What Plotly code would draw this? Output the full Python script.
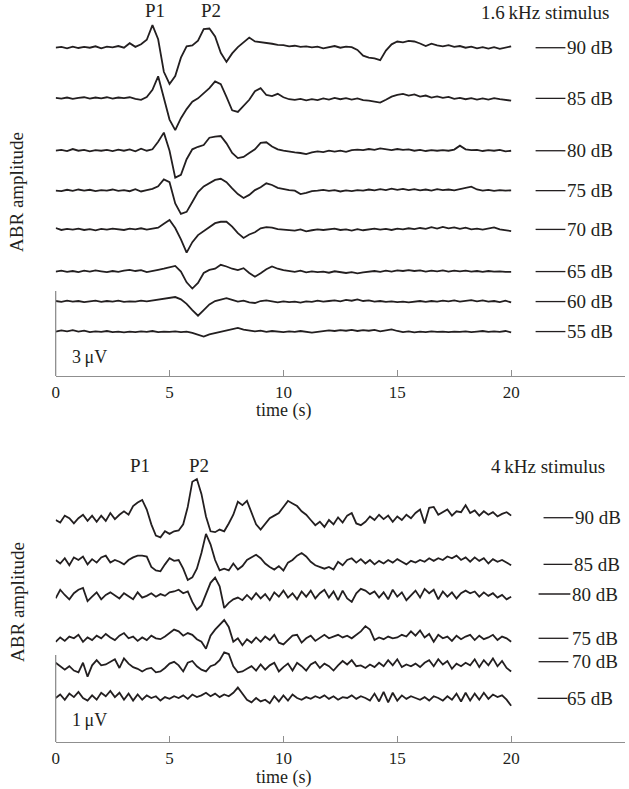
import plotly.graph_objects as go

W, H = 629, 789
FONT = "Liberation Serif"
INK = "#231f20"
GREY = "#8f8f8f"

# ---------------- data (μV, relative to each trace's own baseline) ----------------
# sample times (s)
t_top = [i * 0.25 for i in range(81)]
t_bot = [i * 0.2 for i in range(101)]

levels_top = ["90 dB", "85 dB", "80 dB", "75 dB", "70 dB", "65 dB", "60 dB", "55 dB"]
levels_bot = ["90 dB", "85 dB", "80 dB", "75 dB", "70 dB", "65 dB"]

T90 = [0.00, 0.03, -0.02, 0.04, -0.01, 0.03, 0.00, 0.05, -0.02, 0.04, 0.01, 0.06, 0.00, 0.16, 0.03, 0.12,
       0.28, 0.80, 0.30, -0.85, -1.28, -1.00, -0.35, 0.05, 0.08, 0.25, 0.66, 0.68, 0.40, -0.18, -0.50, -0.20,
       0.02, 0.18, 0.36, 0.22, 0.20, 0.16, 0.14, 0.10, 0.09, 0.05, 0.07, 0.03, 0.05, 0.01, 0.04, -0.02,
       0.03, 0.06, 0.00, 0.04, 0.02, -0.08, -0.28, -0.35, -0.38, -0.44, -0.10, 0.12, 0.22, 0.19, 0.24, 0.22,
       0.15, 0.06, 0.14, 0.08, 0.05, 0.09, 0.03, 0.06, 0.00, 0.04, -0.02, 0.02, -0.03, 0.02, -0.04, 0.00, 0.05]
T85 = [0.02, -0.01, 0.03, -0.02, 0.02, 0.04, -0.01, 0.03, 0.00, 0.04, -0.01, 0.03, 0.01, 0.04, -0.02, -0.05,
       0.05, 0.30, 0.78, 0.00, -0.75, -1.12, -0.70, -0.38, -0.12, 0.00, 0.18, 0.36, 0.60, 0.50, 0.05, -0.42,
       -0.48, -0.28, -0.05, 0.25, 0.36, 0.12, 0.08, 0.16, 0.04, -0.03, -0.05, -0.02, -0.07, -0.03, -0.06, 0.00,
       -0.04, 0.02, -0.03, 0.01, -0.04, 0.00, -0.06, -0.08, -0.12, -0.15, -0.05, 0.06, 0.12, 0.16, 0.10, 0.14,
       0.06, 0.10, 0.03, 0.07, 0.02, 0.05, -0.02, 0.02, -0.03, 0.01, -0.04, 0.00, -0.04, 0.01, -0.03, -0.05, -0.08]
T80 = [0.00, 0.03, -0.01, 0.06, 0.00, 0.03, -0.02, 0.02, 0.00, 0.03, -0.01, 0.04, 0.00, 0.05, -0.02, 0.07,
       0.00, 0.05, 0.32, 0.64, 0.00, -0.95, -0.85, -0.30, 0.05, 0.14, 0.20, 0.46, 0.50, 0.52, 0.26, -0.08,
       -0.26, -0.22, -0.08, 0.05, 0.28, 0.30, 0.15, 0.05, 0.00, -0.04, -0.06, -0.08, -0.12, -0.06, -0.02, -0.05,
       0.00, -0.03, 0.00, -0.04, 0.02, 0.04, 0.02, 0.06, 0.03, 0.08, 0.04, 0.02, 0.06, 0.03, 0.05, 0.00,
       0.03, -0.01, 0.02, 0.00, 0.02, 0.00, 0.04, 0.18, 0.05, 0.02, 0.03, -0.01, 0.02, 0.00, 0.03, -0.02, 0.00]
T75 = [0.00, -0.02, 0.03, -0.01, 0.04, 0.00, 0.03, -0.02, 0.02, 0.00, 0.04, -0.01, 0.02, -0.02, 0.05, -0.03,
       0.02, 0.06, 0.15, 0.40, 0.30, -0.45, -0.82, -0.75, -0.40, -0.05, 0.15, 0.28, 0.38, 0.42, 0.30, 0.08,
       -0.12, -0.26, -0.15, 0.02, 0.12, 0.26, 0.20, 0.10, 0.05, 0.02, 0.00, -0.12, -0.08, -0.02, 0.00, 0.03,
       -0.01, 0.02, -0.03, 0.01, -0.02, 0.02, 0.00, 0.04, 0.01, 0.05, 0.02, 0.07, 0.03, 0.06, 0.02, 0.05,
       0.01, 0.04, 0.00, 0.05, 0.02, 0.04, 0.01, 0.05, 0.08, 0.14, 0.04, 0.00, 0.03, -0.01, 0.02, 0.00, 0.01]
T70 = [0.05, -0.02, 0.02, -0.01, 0.03, -0.02, 0.01, -0.03, 0.02, -0.01, 0.03, 0.00, -0.02, 0.03, 0.00, 0.04,
       -0.01, 0.03, 0.06, 0.20, 0.33, 0.05, -0.35, -0.82, -0.45, -0.20, -0.05, 0.10, 0.22, 0.27, 0.27, 0.10,
       -0.13, -0.30, -0.18, -0.10, 0.04, 0.08, 0.06, 0.01, 0.00, -0.02, -0.04, 0.00, -0.07, -0.03, 0.00, -0.02,
       0.01, 0.03, -0.02, 0.00, -0.04, 0.01, -0.03, 0.00, 0.03, -0.01, 0.02, -0.02, 0.03, 0.00, 0.04, 0.01,
       0.05, 0.02, 0.08, 0.03, 0.09, 0.04, 0.07, 0.02, 0.06, 0.00, 0.03, -0.01, 0.02, 0.07, 0.00, -0.03, -0.06]
T65 = [0.00, 0.03, -0.01, 0.02, -0.02, 0.03, 0.00, 0.04, 0.01, -0.02, 0.02, -0.01, 0.03, 0.06, 0.02, 0.05,
       -0.02, 0.03, 0.06, 0.10, 0.16, 0.20, 0.00, -0.38, -0.60, -0.40, -0.05, 0.06, 0.10, 0.24, 0.18, 0.10,
       0.05, 0.12, -0.05, -0.18, -0.06, 0.08, 0.18, 0.10, 0.05, 0.02, -0.01, 0.03, -0.03, 0.01, -0.02, 0.00,
       -0.04, 0.01, -0.03, -0.05, -0.02, -0.06, -0.03, -0.01, 0.02, -0.01, 0.03, 0.00, 0.04, 0.02, 0.05, 0.02,
       0.04, 0.00, 0.03, 0.01, 0.04, 0.00, 0.03, 0.01, 0.03, 0.00, 0.02, -0.01, 0.02, 0.00, 0.01, -0.01, -0.01]
T60 = [0.02, -0.01, 0.03, 0.00, 0.02, -0.02, 0.01, 0.03, -0.01, 0.02, 0.00, 0.03, -0.01, 0.01, 0.00, 0.03,
       0.01, 0.04, 0.05, 0.10, 0.12, 0.16, 0.08, -0.08, -0.30, -0.50, -0.30, -0.10, 0.02, 0.08, 0.12, 0.06,
       0.00, 0.03, -0.03, -0.05, 0.02, 0.04, 0.00, -0.03, 0.01, -0.02, 0.00, -0.04, 0.01, -0.01, 0.03, 0.00,
       0.02, 0.04, 0.01, 0.06, 0.03, 0.08, 0.02, 0.04, 0.00, 0.02, -0.01, 0.01, -0.02, 0.00, -0.03, 0.00,
       0.02, -0.01, 0.02, 0.00, 0.03, 0.01, 0.04, 0.00, 0.03, 0.05, 0.01, 0.04, 0.00, 0.02, -0.02, 0.03, -0.03]
T55 = [0.00, 0.04, 0.01, 0.05, 0.00, 0.03, -0.02, 0.01, -0.01, 0.02, -0.02, 0.00, -0.03, 0.00, -0.02, 0.01,
       -0.01, 0.02, -0.02, 0.00, -0.01, 0.01, -0.02, 0.00, -0.05, -0.12, -0.18, -0.10, -0.05, 0.00, 0.03, 0.08,
       0.13, 0.07, 0.04, 0.01, 0.03, -0.01, 0.02, 0.00, -0.02, 0.01, -0.01, 0.02, -0.02, -0.04, -0.01, 0.02,
       0.04, 0.02, 0.05, 0.03, 0.06, 0.02, 0.05, 0.03, 0.06, 0.01, 0.04, 0.08, 0.02, -0.02, 0.01, -0.03,
       0.00, -0.02, 0.01, -0.01, 0.00, -0.02, 0.00, -0.01, 0.01, -0.02, 0.00, 0.02, -0.01, 0.01, -0.01, 0.02, -0.03]

B90 = [0.00, -0.03, 0.05, 0.02, -0.04, 0.02, 0.06, -0.01, 0.05, -0.02,
       0.05, -0.01, 0.08, 0.01, 0.06, 0.10, 0.06, 0.16, 0.20, 0.23,
       0.12, -0.05, -0.18, -0.20, -0.13, -0.16, -0.13, -0.12, -0.05, 0.15,
       0.44, 0.47, 0.30, 0.04, -0.13, -0.14, -0.11, -0.13, -0.04, 0.06,
       0.21, 0.17, 0.22, 0.08, -0.05, -0.11, -0.05, 0.02, 0.05, 0.08,
       0.15, 0.22, 0.19, 0.16, 0.10, 0.06, 0.00, -0.06, -0.02, -0.08,
       0.00, -0.05, 0.03, -0.03, 0.05, 0.08, -0.04, -0.06, -0.02, 0.04,
       0.00, 0.06, 0.01, 0.05, -0.02, 0.04, 0.00, 0.06, 0.02, 0.08,
       0.12, -0.04, 0.14, 0.15, 0.06, 0.09, 0.12, 0.05, 0.10, 0.09,
       0.17, 0.08, 0.11, 0.05, 0.10, 0.06, 0.09, 0.04, 0.07, 0.09, 0.05]
B85 = [0.00, -0.04, 0.02, -0.06, 0.03, 0.00, 0.04, -0.05, 0.01, -0.03,
       0.03, 0.05, -0.03, 0.00, -0.02, -0.05, 0.00, 0.03, 0.05, 0.05,
       0.04, -0.08, -0.12, -0.13, -0.05, 0.02, -0.01, 0.00, -0.10, -0.23,
       -0.20, -0.10, 0.08, 0.30, 0.18, 0.00, -0.12, -0.10, -0.12, -0.04,
       -0.11, -0.07, 0.00, 0.03, 0.06, 0.02, -0.04, -0.08, -0.11, -0.07,
       -0.12, -0.03, 0.00, 0.05, 0.08, 0.04, -0.02, -0.06, -0.08, -0.10,
       -0.08, -0.11, -0.02, -0.06, 0.00, 0.02, -0.03, 0.01, -0.04, 0.00,
       -0.05, -0.01, -0.04, 0.00, -0.03, 0.01, -0.02, -0.05, -0.01, -0.03,
       0.00, -0.02, 0.02, -0.01, 0.02, 0.00, 0.04, 0.02, 0.05, 0.00,
       0.03, -0.02, 0.03, -0.01, 0.02, -0.04, 0.01, -0.02, 0.00, -0.03, -0.06]
B80 = [-0.04, 0.06, 0.00, -0.05, 0.02, 0.06, 0.08, -0.07, -0.02, 0.03,
       -0.05, 0.00, 0.03, 0.00, -0.04, 0.02, -0.02, -0.05, 0.03, -0.03,
       -0.01, 0.02, -0.02, 0.01, -0.01, 0.03, 0.04, 0.06, 0.02, 0.04,
       -0.08, -0.17, -0.12, 0.02, 0.14, 0.20, 0.10, -0.15, -0.09, -0.05,
       -0.03, -0.06, 0.00, -0.05, 0.02, -0.04, 0.01, -0.06, 0.03, -0.02,
       0.05, -0.03, 0.02, -0.05, 0.04, -0.02, 0.05, -0.04, 0.02, 0.06,
       -0.03, 0.04, -0.06, 0.05, -0.04, -0.08, 0.02, 0.07, 0.05, 0.01,
       0.04, -0.03, 0.03, -0.05, 0.06, -0.02, 0.03, -0.06, -0.01, 0.05,
       -0.03, 0.07, 0.02, 0.06, -0.05, 0.04, -0.02, 0.03, -0.04, 0.02,
       0.05, 0.02, 0.04, -0.02, 0.03, -0.01, 0.02, -0.03, 0.00, -0.05, -0.02]
B75 = [-0.02, 0.03, -0.01, 0.04, 0.02, 0.06, -0.02, 0.03, 0.00, 0.05,
       0.02, 0.07, 0.03, 0.00, 0.05, 0.08, 0.02, 0.04, -0.01, 0.03,
       0.00, 0.05, 0.02, 0.01, 0.04, 0.08, 0.12, 0.10, 0.05, 0.08,
       0.06, 0.01, -0.02, -0.10, 0.05, 0.12, 0.18, 0.23, 0.15, -0.02,
       0.02, -0.06, 0.01, -0.03, 0.03, -0.02, 0.04, 0.00, 0.06, -0.03,
       -0.05, 0.00, 0.05, 0.06, -0.03, 0.02, 0.05, -0.01, 0.03, 0.06,
       0.02, 0.04, 0.06, 0.03, 0.05, 0.02, 0.06, 0.10, 0.16, 0.12,
       0.00, 0.03, 0.01, 0.04, 0.02, 0.03, 0.06, 0.04, 0.10, 0.05,
       0.11, 0.03, 0.07, -0.02, 0.06, 0.02, 0.04, -0.01, 0.05, 0.01,
       0.04, 0.06, 0.00, 0.05, 0.01, 0.03, 0.06, 0.00, 0.04, 0.02, -0.02]
B70 = [0.06, 0.02, -0.02, 0.02, -0.03, -0.05, 0.06, -0.10, 0.03, 0.09,
       0.03, 0.04, 0.07, 0.10, 0.00, 0.11, 0.05, 0.01, -0.01, -0.04,
       -0.01, 0.00, -0.05, -0.04, 0.00, 0.05, 0.07, 0.03, -0.04, 0.06,
       0.08, 0.02, -0.02, -0.04, 0.02, 0.04, 0.09, 0.18, 0.16, 0.02,
       -0.05, -0.04, -0.01, 0.02, -0.03, 0.04, -0.02, 0.03, 0.06, -0.04,
       0.01, 0.05, -0.03, 0.06, 0.02, -0.03, 0.04, 0.07, 0.00, 0.05,
       0.02, -0.03, 0.03, 0.08, 0.04, 0.09, 0.02, 0.03, 0.00, 0.04,
       0.01, 0.06, 0.02, 0.09, 0.03, 0.10, 0.01, 0.04, 0.02, 0.05,
       0.01, 0.06, 0.09, 0.02, 0.10, 0.04, 0.08, -0.01, 0.05, 0.02,
       0.06, 0.03, 0.10, 0.01, 0.09, 0.03, 0.11, 0.02, 0.08, 0.00, -0.04]
B65 = [0.00, 0.04, -0.02, 0.05, 0.01, 0.07, 0.00, -0.03, 0.03, -0.02,
       0.06, 0.02, 0.08, 0.01, 0.06, -0.02, 0.05, -0.03, 0.04, -0.02,
       0.03, 0.00, 0.02, -0.03, 0.01, -0.01, 0.02, 0.00, 0.03, -0.01,
       0.04, 0.01, 0.03, 0.06, 0.02, 0.05, 0.01, 0.04, 0.02, 0.06,
       0.12, 0.05, -0.02, -0.05, 0.00, -0.04, -0.02, -0.06, 0.02, -0.04,
       0.03, -0.03, 0.04, 0.00, -0.02, 0.01, -0.01, 0.02, 0.00, 0.03,
       -0.01, 0.02, -0.02, 0.01, 0.00, 0.03, -0.01, 0.02, 0.00, -0.03,
       0.05, -0.04, 0.07, -0.05, 0.06, -0.03, 0.03, -0.01, 0.02, 0.00,
       -0.02, 0.01, -0.03, 0.02, 0.00, -0.03, 0.02, -0.02, 0.05, -0.04,
       0.06, -0.03, 0.05, -0.02, 0.06, -0.01, 0.04, 0.01, 0.03, -0.02, -0.09]

traces_top = [T90, T85, T80, T75, T70, T65, T60, T55]
traces_bot = [B90, B85, B80, B75, B70, B65]

# scale bar heights (μV)
scale_top = 3
scale_bot = 1

# ---------------- layout constants (pixels / baselines) ----------------
X0, X1 = 52, 625
TOP_AXIS, TOP_PXUV = 376, 28.3
BOT_AXIS, BOT_TOPPX, BOT_PXUV = 742, 430, 87.0
base_top = [11.60, 9.81, 7.96, 6.55, 5.18, 3.69, 2.63, 1.57]
base_bot = [2.552, 2.092, 1.690, 1.172, 0.851, 0.506]
lab_bot = [2.578, 2.042, 1.701, 1.192, 0.923, 0.502]
lab_line_top = [(535, 565, 615)] * 8
lab_line_bot = [(543, 573, 623), (543, 572, 622), (538, 570, 620),
                (538, 568, 620), (538, 568, 620), (537, 567, 615)]


def fx(px):
    return px / W


def fy(py):
    return 1 - py / H


fig = go.Figure()
for vals, b in zip(traces_top, base_top):
    fig.add_trace(go.Scatter(x=t_top, y=[v + b for v in vals], mode="lines",
                             line=dict(color=INK, width=1.8), xaxis="x", yaxis="y",
                             hoverinfo="skip", showlegend=False))
for vals, b in zip(traces_bot, base_bot):
    fig.add_trace(go.Scatter(x=t_bot, y=[v + b for v in vals], mode="lines",
                             line=dict(color=INK, width=1.8), xaxis="x2", yaxis="y2",
                             hoverinfo="skip", showlegend=False))

shapes = []
ann = []
tf = dict(family=FONT, size=19, color=INK)

for lev, b, (a0, a1, tr) in zip(levels_top, base_top, lab_line_top):
    shapes.append(dict(type="line", xref="paper", yref="y", x0=fx(a0), x1=fx(a1), y0=b, y1=b,
                       line=dict(color=INK, width=1.3)))
    ann.append(dict(text=lev, xref="paper", yref="y", x=fx(tr), y=b, xanchor="right",
                    yanchor="middle", showarrow=False, font=tf))
for lev, b, (a0, a1, tr) in zip(levels_bot, lab_bot, lab_line_bot):
    shapes.append(dict(type="line", xref="paper", yref="y2", x0=fx(a0), x1=fx(a1), y0=b, y1=b,
                       line=dict(color=INK, width=1.3)))
    ann.append(dict(text=lev, xref="paper", yref="y2", x=fx(tr), y=b, xanchor="right",
                    yanchor="middle", showarrow=False, font=tf))

# scale bars
shapes.append(dict(type="line", xref="paper", yref="y", x0=fx(X0), x1=fx(X0), y0=0, y1=scale_top,
                   line=dict(color=GREY, width=1.3)))
shapes.append(dict(type="line", xref="paper", yref="y2", x0=fx(X0), x1=fx(X0), y0=0, y1=scale_bot,
                   line=dict(color=GREY, width=1.3)))


def txt(s, x, y, xa="center", angle=0, size=18):
    ann.append(dict(text=s, xref="paper", yref="paper", x=fx(x), y=fy(y), xanchor=xa,
                    yanchor="middle", showarrow=False, textangle=angle,
                    font=dict(family=FONT, size=size, color=INK)))


txt("P1", 152, 11, size=19)
txt("P2", 208, 11, size=19)
txt("1.6\u2009kHz stimulus", 611, 12, xa="right", size=19)
txt("P1", 137, 465, size=19)
txt("P2", 196, 465, size=19)
txt("4\u2009kHz stimulus", 607, 466, xa="right", size=19)
txt("3\u2009\u03bcV", 66, 357, xa="left")
txt("1\u2009\u03bcV", 66, 720, xa="left")
txt("ABR amplitude", 13, 192, angle=-90, size=19)
txt("ABR amplitude", 13, 602, angle=-90, size=19)
txt("time (s)", 282, 410)
txt("time (s)", 282, 777)

xcommon = dict(range=[0, 25], domain=[fx(X0), fx(X1)], showline=True, linecolor=GREY, linewidth=1.3,
               ticks="inside", ticklen=6, tickcolor=GREY, tickwidth=1.3,
               tickvals=[0, 5, 10, 15, 20, 25], ticktext=["0", "5", "10", "15", "20", ""],
               tickfont=dict(family=FONT, size=17, color=INK), showgrid=False, zeroline=False)

fig.update_layout(
    width=W, height=H, margin=dict(l=0, r=0, t=0, b=0),
    paper_bgcolor="white", plot_bgcolor="white", showlegend=False,
    xaxis=dict(anchor="y", **xcommon),
    yaxis=dict(domain=[fy(TOP_AXIS), 1], range=[0, TOP_AXIS / TOP_PXUV], visible=False),
    xaxis2=dict(anchor="y2", **xcommon),
    yaxis2=dict(domain=[fy(BOT_AXIS), fy(BOT_TOPPX)], range=[0, (BOT_AXIS - BOT_TOPPX) / BOT_PXUV],
                visible=False),
    shapes=shapes, annotations=ann,
)

fig.write_html("out.html", config={"displayModeBar": False},
               post_script="document.body.style.margin='0px';document.body.style.overflow='hidden';")
